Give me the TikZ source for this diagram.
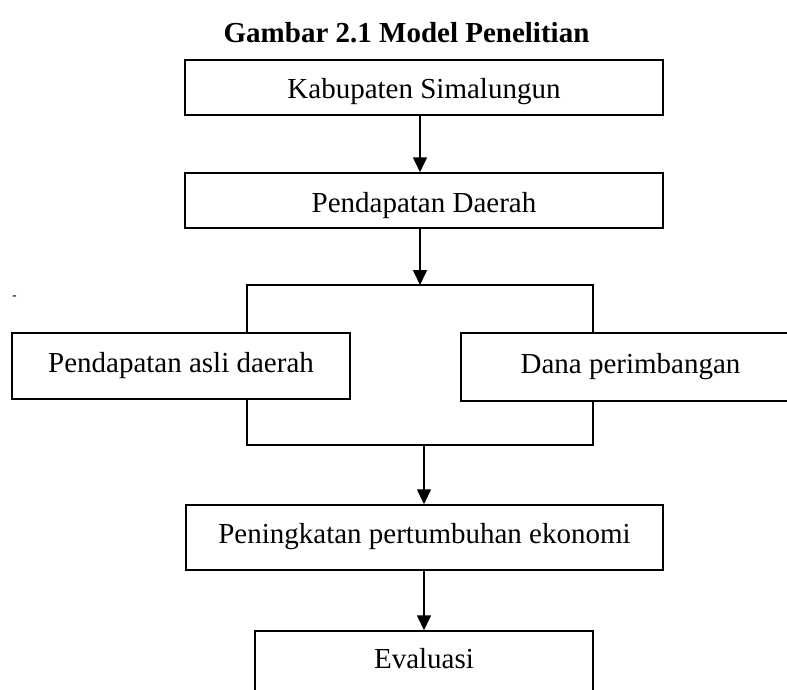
\documentclass[tikz,border=0pt]{standalone}
\usepackage{fontspec}
\setmainfont{Liberation Serif}
\usetikzlibrary{arrows.meta}
\begin{document}
\begin{tikzpicture}[x=1pt,y=-1pt,
  box/.style={draw, line width=1.5pt, inner sep=0pt, font=\fontsize{29}{34}\selectfont, text depth=0pt},
  conn/.style={line width=1.6pt},
  arr/.style={conn,-{Triangle[width=14pt,length=15pt]}}]
\useasboundingbox (0,0) rectangle (787,689);
\clip (0,0) rectangle (787,689);
\node[anchor=base, font=\fontsize{29}{34}\selectfont\bfseries] (title) at (406.5,42) {Gambar 2.1 Model Penelitian};
\node[font=\fontsize{13}{15}\selectfont\bfseries] (dash) at (14.5,297.5) {-};
\node[box, minimum width=478pt, minimum height=55pt, text height=21pt] (kab) at (424,87.5) {Kabupaten Simalungun};
\node[box, minimum width=478pt, minimum height=55pt, text height=24pt] (pd) at (424,200.5) {Pendapatan Daerah};
\node[box, minimum width=338pt, minimum height=66pt, text height=12pt] (pad) at (181,366) {Pendapatan asli daerah};
\node[box, minimum width=339pt, minimum height=68pt, text height=12pt] (dp) at (630.5,367) {Dana perimbangan};
\node[box, minimum width=477pt, minimum height=65pt, text height=12pt] (ppe) at (424.5,537.5) {Peningkatan pertumbuhan ekonomi};
\node[box, minimum width=338pt, minimum height=65pt, text height=9pt] (eva) at (424,663.5) {Evaluasi};
\coordinate (bt) at (420,285);
\coordinate (btl) at (247,285);
\coordinate (btr) at (593,285);
\coordinate (bbl) at (247,445);
\coordinate (bbr) at (593,445);
\coordinate (bb) at (424,445);
\draw[arr] (bt |- kab.south) -- (bt |- pd.north);
\draw[arr] (bt |- pd.south) -- (bt);
\draw[conn] (btl |- pad.north) -- (btl) -- (btr) -- (btr |- dp.north);
\draw[conn] (bbl |- pad.south) -- (bbl) -- (bbr) -- (bbr |- dp.south);
\draw[arr] (bb) -- (bb |- ppe.north);
\draw[arr] (bb |- ppe.south) -- (bb |- eva.north);
\end{tikzpicture}
\end{document}
